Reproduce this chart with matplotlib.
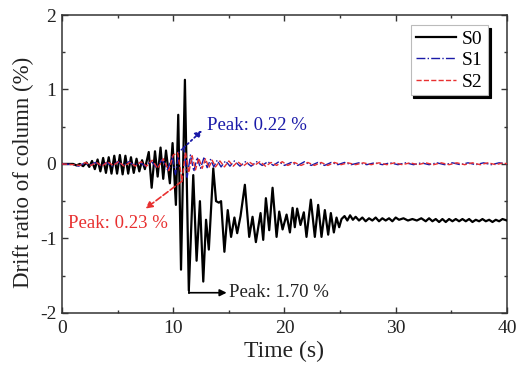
import matplotlib
matplotlib.use("Agg")
import matplotlib.pyplot as plt

# S0 - drift ratio time history (peaks/troughs)
t_s0 = [0, 1.0, 1.3, 1.6, 1.9, 2.2, 2.45, 2.7, 2.95, 3.2, 3.45, 3.7, 3.95, 4.2, 4.45,
        4.7, 4.95, 5.2, 5.45, 5.7, 5.95, 6.2, 6.45, 6.7, 6.95, 7.2, 7.45, 7.8, 8.06,
        8.36, 8.6, 8.86, 9.1, 9.35, 9.7, 9.94, 10.24, 10.45, 10.7, 11.05, 11.4, 11.8,
        12.1, 12.4, 12.7, 12.95, 13.2, 13.6, 13.85, 14.1, 14.3, 14.6, 14.9, 15.2, 15.5,
        15.75, 16.05, 16.44, 16.83, 17.13, 17.43, 17.85, 18.09, 18.33, 18.63, 18.93,
        19.29, 19.53, 19.83, 20.19, 20.49, 20.73, 20.93, 21.14, 21.44, 21.74, 21.98,
        22.37, 22.73, 23.03, 23.33, 23.63, 23.93, 24.17, 24.44, 24.68, 24.92, 25.13,
        25.4, 25.65, 25.9, 26.15, 26.4, 26.7, 27.0, 27.3, 27.6, 27.9, 28.2, 28.5, 28.8,
        29.1, 29.4, 29.7, 30.0, 30.3, 30.7, 31.1, 31.5, 31.9, 32.3, 32.7, 33.0, 33.3,
        33.6, 33.9, 34.2, 34.5, 34.8, 35.1, 35.4, 35.7, 36.0, 36.3, 36.6, 36.9, 37.2,
        37.5, 37.8, 38.1, 38.4, 38.7, 39.0, 39.3, 39.6, 40.0]
v_s0 = [0, 0, -0.02, 0.0, -0.03, 0.02, -0.04, 0.04, -0.07, 0.06, -0.10, 0.08, -0.12, 0.09, -0.13,
        0.11, -0.13, 0.12, -0.14, 0.11, -0.13, 0.09, -0.12, 0.07, -0.10, 0.05, -0.07, 0.16, -0.32,
        0.17, -0.17, 0.22, -0.20, 0.18, -0.26, 0.28, -0.55, 0.66, -1.42, 1.13, -1.70, -0.15,
        -1.30, -0.50, -1.58, -0.75, -1.15, -0.06, -0.50, -0.52, -0.50, -1.18, -0.62, -0.98, -0.72,
        -0.93, -0.70, -0.28, -0.98, -0.71, -1.05, -0.66, -1.02, -0.46, -0.89, -0.32,
        -0.98, -0.64, -0.88, -0.68, -0.92, -0.59, -0.85, -0.60, -0.82, -0.65, -0.98,
        -0.48, -0.98, -0.55, -0.98, -0.62, -0.95, -0.66, -0.92, -0.72, -0.85, -0.74,
        -0.70, -0.76, -0.69, -0.75, -0.71, -0.76, -0.72, -0.77, -0.73, -0.76, -0.72, -0.77, -0.73,
        -0.76, -0.73, -0.77, -0.72, -0.75, -0.73, -0.76, -0.74, -0.76, -0.73, -0.77, -0.73, -0.77,
        -0.74, -0.78, -0.74, -0.78, -0.74, -0.77, -0.74, -0.77, -0.74, -0.77, -0.74, -0.78, -0.75,
        -0.77, -0.74, -0.77, -0.75, -0.78, -0.75, -0.77, -0.74, -0.76]

# S1
t_s1 = [0, 1.0, 1.5, 2.0, 2.5, 3.0, 3.5, 4.0, 4.5, 5.0, 5.5, 6.0, 6.5, 7.0, 7.5, 8.0, 8.5,
        9.0, 9.5, 9.9, 10.2, 10.5, 10.95, 11.25, 11.55, 11.85, 12.15, 12.45, 12.75, 13.05,
        13.35, 13.65, 13.95, 14.3, 14.7, 15.1, 15.5, 16.0, 16.5, 17.0, 17.5, 18.0, 18.5,
        19.0, 19.5, 20.0, 20.6, 21.2, 21.8, 22.4, 23.0, 23.6, 24.2, 24.8, 25.4, 26.0, 26.7,
        27.4, 28.1, 28.8, 29.5, 30.2, 30.9, 31.6, 32.3, 33.0, 33.7, 34.4, 35.1, 35.8, 36.5,
        37.2, 37.9, 38.6, 39.3, 40.0]
v_s1 = [0, -0.01, -0.03, 0.01, -0.02, 0.02, -0.03, 0.02, -0.03, 0.03, -0.02, 0.03, -0.02,
        0.02, -0.03, 0.04, -0.05, 0.06, -0.08, 0.10, -0.14, 0.16, 0.22, -0.18, 0.12, -0.10,
        0.09, -0.06, 0.08, -0.05, 0.06, -0.04, 0.05, -0.04, 0.04, -0.03, 0.04, -0.03, 0.03,
        -0.03, 0.03, -0.02, 0.03, -0.02, 0.03, -0.02, 0.02, -0.02, 0.03, -0.02, 0.02, -0.02,
        0.02, -0.01, 0.02, -0.01, 0.015, -0.01, 0.015, -0.01, 0.015, -0.01, 0.015, -0.01,
        0.015, -0.01, 0.015, -0.01, 0.015, -0.01, 0.015, -0.01, 0.015, -0.01, 0.015, 0.0]

# S2
t_s2 = [0, 1.1, 1.6, 2.1, 2.6, 3.1, 3.6, 4.1, 4.6, 5.1, 5.6, 6.1, 6.6, 7.1, 7.6, 8.1, 8.6,
        9.1, 9.6, 10.0, 10.4, 10.8, 11.1, 11.4, 11.7, 12.0, 12.3, 12.6, 12.9, 13.2, 13.5,
        13.8, 14.2, 14.6, 15.0, 15.4, 15.8, 16.3, 16.8, 17.3, 17.8, 18.3, 18.8, 19.3, 19.8,
        20.3, 20.9, 21.5, 22.1, 22.7, 23.3, 23.9, 24.5, 25.1, 25.7, 26.4, 27.1, 27.8, 28.5,
        29.2, 29.9, 30.6, 31.3, 32.0, 32.7, 33.4, 34.1, 34.8, 35.5, 36.2, 36.9, 37.6, 38.3,
        39.0, 39.7, 40.0]
v_s2 = [0, -0.01, -0.02, 0.02, -0.02, 0.02, -0.03, 0.03, -0.02, 0.03, -0.03, 0.02, -0.03,
        0.03, -0.03, 0.05, -0.06, 0.07, -0.09, 0.12, 0.15, -0.23, 0.16, -0.12, 0.11, -0.08,
        0.08, -0.06, 0.07, -0.05, 0.05, -0.04, 0.04, -0.04, 0.04, -0.03, 0.03, -0.03, 0.03,
        -0.02, 0.03, -0.03, 0.02, -0.02, 0.03, -0.02, 0.02, -0.02, 0.02, -0.02, 0.02, -0.02,
        0.02, -0.01, 0.015, -0.01, 0.015, -0.01, 0.015, -0.01, 0.015, -0.01, 0.015, -0.01,
        0.015, -0.01, 0.015, -0.01, 0.015, -0.01, 0.015, -0.01, 0.015, -0.01, 0.015, 0.0]

series_names = ["S0", "S1", "S2"]

plt.rcParams['font.family'] = ['Liberation Serif', 'DejaVu Serif']
plt.rcParams['axes.unicode_minus'] = False

fig = plt.figure(figsize=(5.21, 3.76), dpi=100)
ax = fig.add_axes([0.119, 0.168, 0.854, 0.792])

ax.plot(t_s0, v_s0, color='black', lw=1.6, label=series_names[0], zorder=3)
ax.plot(t_s1, v_s1, color='#1a1aa8', lw=1.0, ls='-.', label=series_names[1], zorder=4)
ax.plot(t_s2, v_s2, color='#e83030', lw=1.0, ls='--', label=series_names[2], zorder=4)

ax.set_xlim(0, 40)
ax.set_ylim(-2, 2)
ax.set_xticks([0, 10, 20, 30, 40])
ax.set_xticks([5, 15, 25, 35], minor=True)
ax.set_yticks([-2, -1, 0, 1, 2])
ax.set_yticks([-1.5, -0.5, 0.5, 1.5], minor=True)
ax.tick_params(which='both', direction='in', top=True, right=True, colors='#333333',
               labelcolor='#222222', labelsize=14, width=1, pad=5)
ax.tick_params(axis='y', pad=4)
ax.tick_params(which='major', length=4)
ax.tick_params(which='minor', length=2.5)
for s in ax.spines.values():
    s.set_color('#333333')
    s.set_linewidth(1.1)

ax.set_xlabel('Time (s)', fontsize=17, color='#222222', labelpad=3)
ax.set_ylabel('Drift ratio of column (%)', fontsize=16.5, color='#222222')
ax.yaxis.set_label_coords(-0.062, 0.47)

# peak annotations
ax.annotate('', xy=(12.6, 0.45), xytext=(10.95, 0.22),
            arrowprops=dict(arrowstyle='-|>', color='#1a1aa8', ls=':', lw=1.3,
                            mutation_scale=10, shrinkA=0, shrinkB=0))
ax.text(13.0, 0.52, 'Peak: 0.22 %', color='#1a1aa8', fontsize=13.5, va='center', ha='left')

ax.annotate('', xy=(7.5, -0.6), xytext=(10.8, -0.23),
            arrowprops=dict(arrowstyle='-|>', color='#e83030', ls='--', lw=1.2,
                            mutation_scale=10, shrinkA=0, shrinkB=0))
ax.text(5.0, -0.80, 'Peak: 0.23 %', color='#e83030', fontsize=13.5, va='center', ha='center')

ax.plot([11.4, 11.4], [-1.70, -1.73], color='black', lw=1.2)
ax.annotate('', xy=(14.8, -1.73), xytext=(11.4, -1.73),
            arrowprops=dict(arrowstyle='-|>', color='black', lw=1.2, mutation_scale=10,
                            shrinkA=0, shrinkB=0))
ax.text(15.0, -1.73, 'Peak: 1.70 %', color='#222222', fontsize=13.5, va='center', ha='left')

leg = ax.legend(loc='upper right', bbox_to_anchor=(0.957, 0.966), borderaxespad=0,
                fontsize=14, handlelength=2.1, handletextpad=0.3, labelspacing=0.2,
                borderpad=0.25, fancybox=False, edgecolor='#bbbbbb',
                shadow={'color': 'black', 'alpha': 1.0})
leg.get_frame().set_linewidth(0.8)

fig.savefig('out.png', dpi=100)
